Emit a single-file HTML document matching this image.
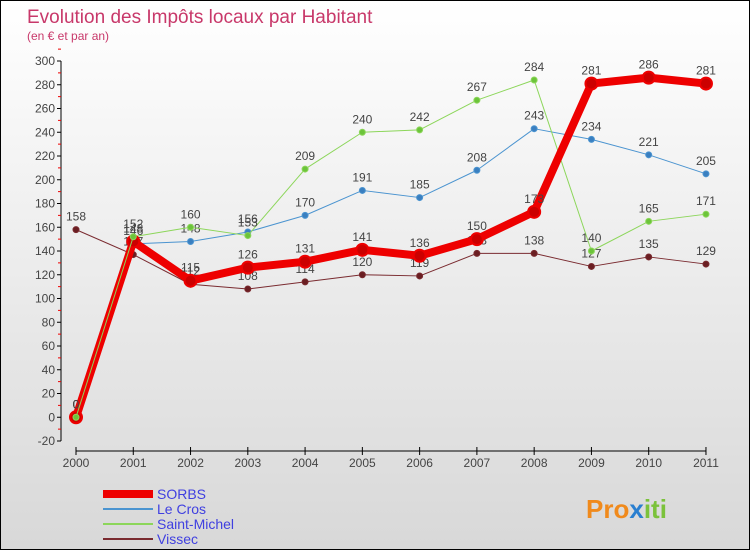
<!DOCTYPE html>
<html><head><meta charset="utf-8"><style>
body{margin:0}
#c{width:750px;height:550px;position:relative;box-sizing:border-box;border:1px solid #000;background:linear-gradient(#fff,#d8d8d8);font-family:"Liberation Sans",sans-serif;overflow:hidden}
</style></head><body>
<div id="c">
<svg id="s" width="750" height="550" style="position:absolute;left:0;top:0">
<text x="26" y="22" font-size="19" fill="#c8386a">Evolution des Impôts locaux par Habitant</text>
<text x="26" y="39" font-size="12" fill="#c8386a">(en € et par an)</text>
<g id="ax"></g><g id="ser"></g>
<text x="585" y="517" font-size="26" font-weight="bold" fill="#f08a1c">Pro<tspan fill="#2a7fd0">x</tspan><tspan fill="#7bc23b">iti</tspan></text>
</svg>
</div>
<script>
const years=["2000","2001","2002","2003","2004","2005","2006","2007","2008","2009","2010","2011"];
const yTicks=[-20,0,20,40,60,80,100,120,140,160,180,200,220,240,260,280,300];
const sorbs=[0,148,115,126,131,141,136,150,173,281,286,281];
const leCros=[0,146,148,156,170,191,185,208,243,234,221,205];
const saintMichel=[0,152,160,153,209,240,242,267,284,140,165,171];
const vissec=[158,137,112,108,114,120,119,138,138,127,135,129];
const NS="http://www.w3.org/2000/svg";
const X=i=>75+i*57.27, Y=v=>416.25-v*1.1875;
function mk(t,a,p){const e=document.createElementNS(NS,t);for(const k in a)e.setAttribute(k,a[k]);p.appendChild(e);return e;}
const ax=document.getElementById('ax'),ser=document.getElementById('ser');
let l=mk('line',{x1:60,y1:Y(300),x2:60,y2:Y(-20),stroke:'#000'},ax);


yTicks.forEach(v=>{
 mk('line',{x1:56,x2:60,y1:Y(v),y2:Y(v),stroke:'#000'},ax);
 mk('line',{x1:57,x2:60,y1:Y(v+10),y2:Y(v+10),stroke:'#e00'},ax);
 const t=mk('text',{x:54,y:Y(v)+4,'text-anchor':'end','font-size':12,fill:'#444'},ax);t.textContent=v;
 
 
});
l=mk('line',{x1:X(0),y1:450,x2:X(11),y2:450,stroke:'#000'},ax);


years.forEach((y,i)=>{
 mk('line',{x1:X(i),x2:X(i),y1:446,y2:454,stroke:'#000'},ax);
 const t=mk('text',{x:X(i),y:466,'text-anchor':'middle','font-size':12,fill:'#444'},ax);t.textContent=y;
 
 
});
function series(d,col,w,r,fill,name,labels){
 const g=mk('g',{},ser);
 
 
 mk('polyline',{points:d.map((v,i)=>X(i)+','+Y(v)).join(' '),fill:'none',stroke:col,'stroke-width':w,'stroke-linejoin':'round'},g);
 d.forEach((v,i)=>{
  const c=mk('circle',{cx:X(i),cy:Y(v),r:r,fill:fill,stroke:col,'stroke-width':w>3?2:1},g);
  
  
  if(labels){const t=mk('text',{x:X(i),y:Y(v)-9,'text-anchor':'middle','font-size':12,fill:'#444'},g);t.textContent=v;
  
  }
 });
}
series(vissec,'#7a2b30',1,3,'#6a1e22','vissec',true);
series(leCros,'#4b94d0',1,3,'#3a7fc0','le-cros',true);
series(saintMichel,'#8cd65a',1,3,'#6cc43a','saint-michel',true);
series(sorbs,'#ee0000',8,6,'#cc0000','sorbs',true);
series(saintMichel.slice(0,2),'#8cd65a',1,3,'#6cc43a','saint-michel-front',false);
const leg=[['SORBS','#ee0000',8],['Le Cros','#4b94d0',2],['Saint-Michel','#8cd65a',2],['Vissec','#7a2b30',2]];
leg.forEach((e,i)=>{
 const y=493+i*15;
 const g=mk('g',{},ser);
 
 
 mk('line',{x1:102,x2:152,y1:y,y2:y,stroke:e[1],'stroke-width':e[2]},g);
 const t=mk('text',{x:156,y:y+5,'font-size':14,fill:'#4040e0'},g);t.textContent=e[0];
});
</script>
</body></html>
